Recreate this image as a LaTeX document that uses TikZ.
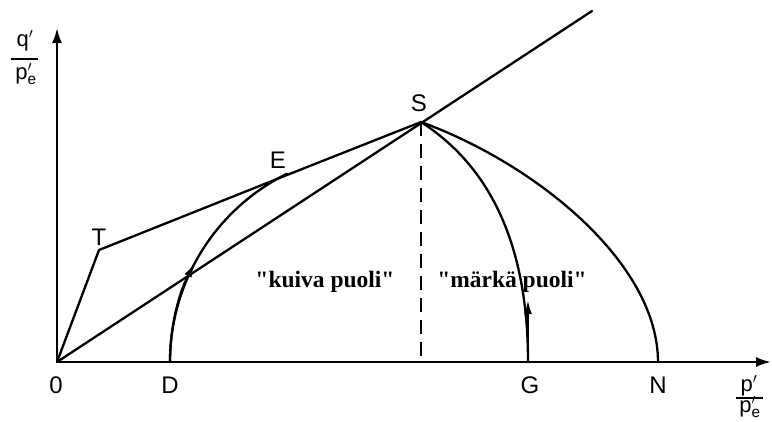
\documentclass[tikz,border=0pt]{standalone}
\usepackage{fontspec}
\setmainfont{Liberation Sans}
\newfontfamily\labfont{Liberation Serif}
\usetikzlibrary{arrows.meta}
\begin{document}
\begin{tikzpicture}[x=1pt,y=-1pt,
  line width=2.3pt, line cap=round, line join=round,
  lbl/.style={font=\fontsize{24}{26}\selectfont, inner sep=0pt},
  fr/.style={font=\fontsize{22}{24}\selectfont, inner sep=0pt, anchor=base},
  zone/.style={font=\labfont\bfseries\fontsize{23.5}{26}\selectfont, inner sep=0pt, anchor=base},
  axisarrow/.style={-{Latex[length=15pt,width=10pt]}},
  patharrow/.style={-{Latex[length=14pt,width=8pt]}}
]
\useasboundingbox (0,0) rectangle (772,421);
% key points
\coordinate (O) at (57,362);
\coordinate (ytop) at (57,28);
\coordinate (xend) at (771,362);
\coordinate (T) at (99,250);
\coordinate (E) at (287,175);
\coordinate (S) at (421,122);
\coordinate (D) at (170,362);
\coordinate (G) at (528,362);
\coordinate (Garr) at (528,300);
\coordinate (N) at (658,362);
\coordinate (Sfoot) at (421,362);
\coordinate (Ktop) at (592,11);
% axes
\draw[axisarrow] (O) -- (ytop);
\draw[axisarrow] (O) -- (xend);
% K0 line
\draw (O) -- (Ktop);
% failure envelope
\draw (O) -- (T) -- (E) -- (S);
% dashed vertical
\draw[dash pattern=on 14pt off 8pt, line cap=butt] (S) -- (Sfoot);
% stress paths
\draw (D) arc[start angle=180, end angle=243.7, radius=210];
\draw[patharrow] (D) arc[start angle=180, end angle=208, radius=210];
\draw (S) .. controls (534,163) and (658,262) .. (N);
\draw (G) .. controls (528,230) and (480,160) .. (S);
\draw[patharrow] (G) -- (Garr);
% point labels
\node[lbl] (lO) at (56,385) {0};
\node[lbl] (lD) at (170,385) {D};
\node[lbl] (lG) at (530,385) {G};
\node[lbl] (lN) at (658,385) {N};
\node[lbl] (lS) at (419,103) {S};
\node[lbl] (lE) at (278,160) {E};
\node[lbl] (lT) at (99,237) {T};
% axis labels
\node[fr] (qnum) at (25,46) {q$'$};
\coordinate (qb1) at (11,59);
\coordinate (qb2) at (38,59);
\draw[line width=2pt, line cap=butt] (qb1) -- (qb2);
\node[fr] (qden) at (26,79) {p$'_{\mathrm{e}}$};
\node[fr] (pnum) at (749,391) {p$'$};
\coordinate (pb1) at (736,398);
\coordinate (pb2) at (763,398);
\draw[line width=2pt, line cap=butt] (pb1) -- (pb2);
\node[fr] (pden) at (750,412) {p$'_{\mathrm{e}}$};
% zone labels
\node[zone] (kuiva) at (325,287) {"kuiva puoli"};
\node[zone] (marka) at (512,287) {"märkä puoli"};
\end{tikzpicture}
\end{document}
